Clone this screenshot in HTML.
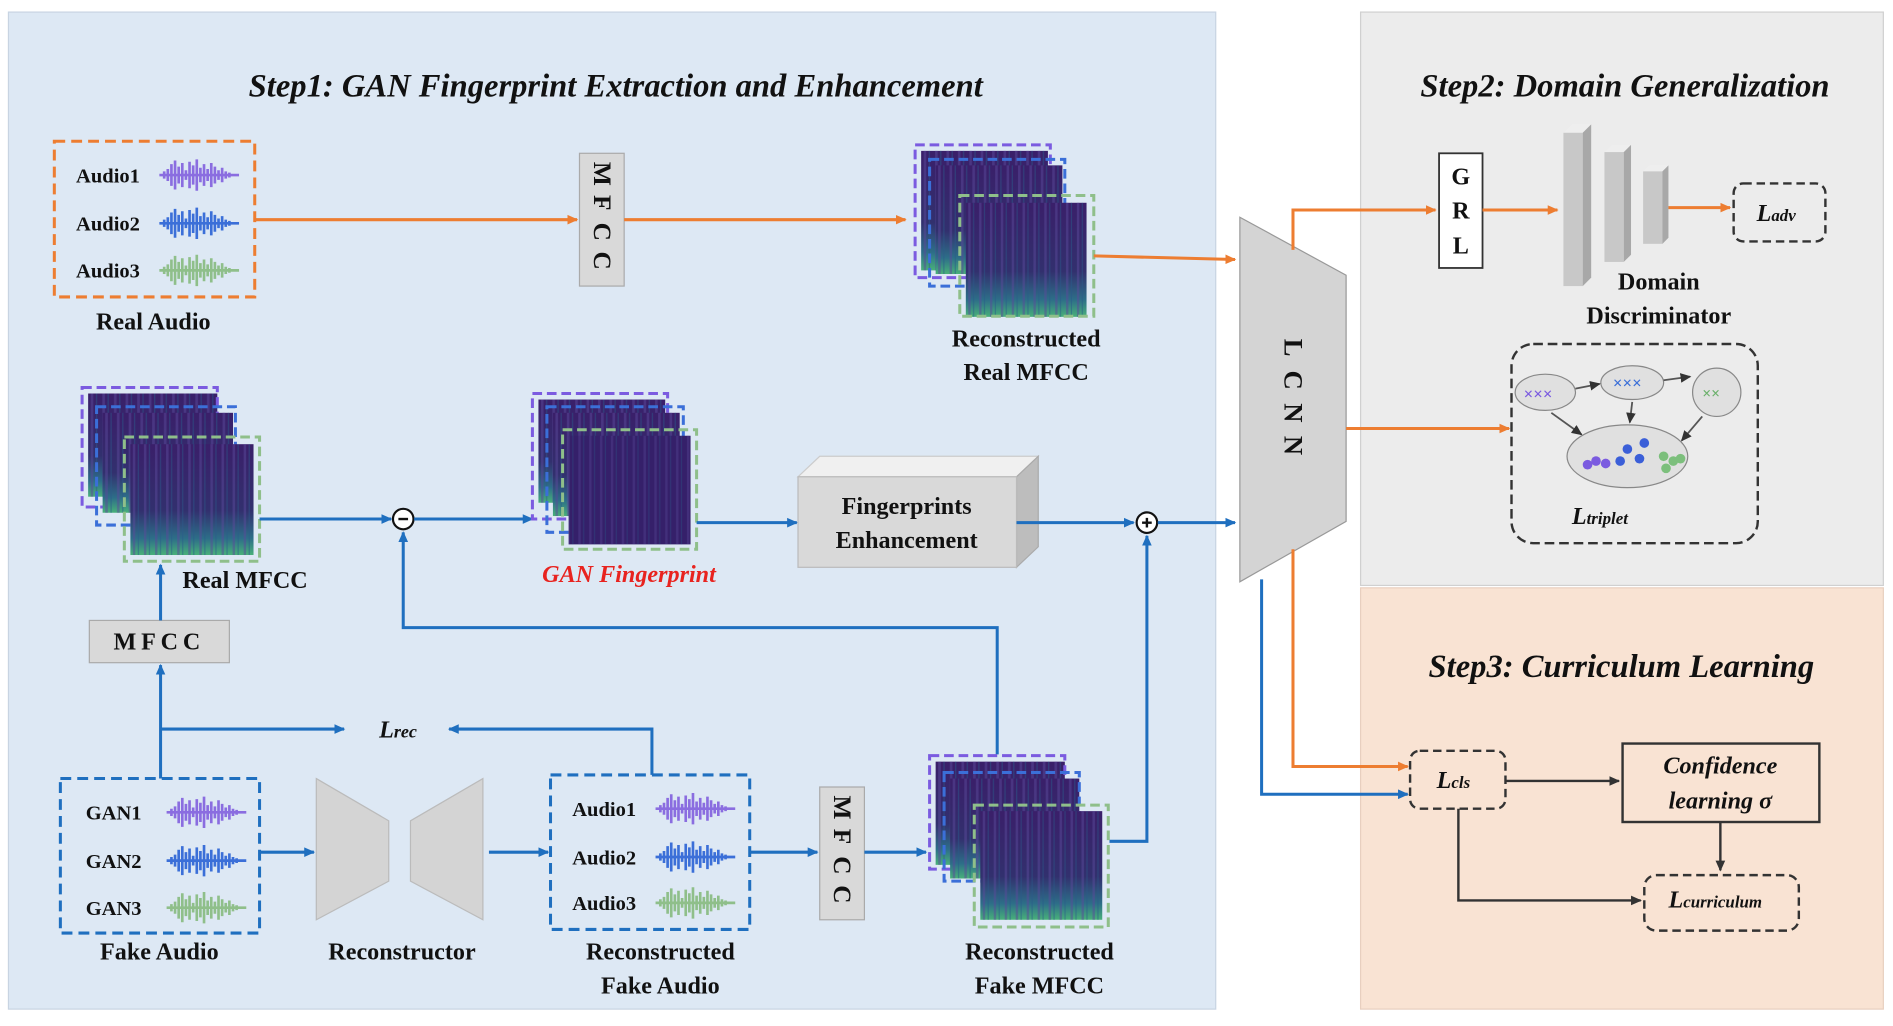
<!DOCTYPE html>
<html><head><meta charset="utf-8"><style>
html,body{margin:0;padding:0;background:#fff;}
svg{display:block;}
text{font-family:"Liberation Serif",serif;font-weight:bold;fill:#111;}
</style></head><body>
<svg width="1893" height="1026" viewBox="0 0 1568 850" preserveAspectRatio="none" xmlns="http://www.w3.org/2000/svg">
<defs>
<marker id="ao" markerWidth="10" markerHeight="10" refX="8" refY="5" orient="auto" markerUnits="userSpaceOnUse"><path d="M0,1 L9,5 L0,9 z" fill="#ed7d31"/></marker>
<marker id="ab" markerWidth="10" markerHeight="10" refX="8" refY="5" orient="auto" markerUnits="userSpaceOnUse"><path d="M0,1 L9,5 L0,9 z" fill="#1f6fbf"/></marker>
<marker id="ak" markerWidth="10" markerHeight="10" refX="8" refY="5" orient="auto" markerUnits="userSpaceOnUse"><path d="M0,1 L9,5 L0,9 z" fill="#333"/></marker>
<linearGradient id="sp" x1="0" y1="0" x2="0" y2="1"><stop offset="0" stop-color="#3a1f6a"/><stop offset="0.6" stop-color="#32306e"/><stop offset="0.85" stop-color="#2d6e88"/><stop offset="1" stop-color="#48b07a"/></linearGradient>
<pattern id="st" width="9" height="10" patternUnits="userSpaceOnUse"><rect x="2" width="2" height="10" fill="#5a4a9a" opacity="0.5"/><rect x="6" width="1" height="10" fill="#2a5a8a" opacity="0.5"/></pattern>
<symbol id="wv" viewBox="0 0 70 30"><path d="M2,15h66 M6,12v6 M9,10v10 M12,6v18 M15,3v24 M18,8v14 M21,5v20 M24,11v8 M27,4v22 M30,7v16 M33,2v26 M36,9v12 M39,6v18 M42,10v10 M45,5v20 M48,8v14 M51,11v8 M54,9v12 M57,12v6 M60,13v4 M64,14v2" stroke="currentColor" stroke-width="2.2" fill="none"/></symbol>
<g id="spec"><rect width="100" height="90" fill="url(#sp)"/><rect width="100" height="90" fill="url(#st)"/></g>
</defs>
<rect width="1568" height="850" fill="#fff"/>
<rect x="7" y="10" width="1000" height="826" fill="#dde8f4" stroke="#c8d4e2"/>
<rect x="1127" y="10" width="433" height="475" fill="#ececec" stroke="#d0d0d0"/>
<rect x="1127" y="487" width="433" height="349" fill="#f9e3d3" stroke="#e8cfbf"/>
<text x="510" y="80" font-size="27" font-style="italic" text-anchor="middle">Step1: GAN Fingerprint Extraction and Enhancement</text>
<text x="1346" y="80" font-size="27" font-style="italic" text-anchor="middle">Step2: Domain Generalization</text>
<text x="1343" y="561" font-size="27" font-style="italic" text-anchor="middle">Step3: Curriculum Learning</text>

<rect x="45" y="117" width="166" height="129" fill="none" stroke="#ed7d31" stroke-width="2.5" stroke-dasharray="9,5"/>
<g font-size="17"><text x="63" y="151">Audio1</text><text x="63" y="191">Audio2</text><text x="63" y="230">Audio3</text></g>
<use href="#wv" x="130" y="130" width="70" height="30" color="#8a6de0"/>
<use href="#wv" x="130" y="170" width="70" height="30" color="#3b6fd8"/>
<use href="#wv" x="130" y="209" width="70" height="30" color="#8fbf8a"/>
<text x="127" y="273" font-size="20" text-anchor="middle">Real Audio</text>
<rect x="480" y="127" width="37" height="110" fill="#d9d9d9" stroke="#aaa"/>
<g font-size="21" text-anchor="middle"><text x="498" y="150" transform="rotate(90 498 144)">M</text><text x="498" y="174" transform="rotate(90 498 168)">F</text><text x="498" y="198" transform="rotate(90 498 192)">C</text><text x="498" y="222" transform="rotate(90 498 216)">C</text></g>
<line x1="211" y1="182" x2="478" y2="182" stroke="#ed7d31" stroke-width="2.5" marker-end="url(#ao)"/>
<line x1="517" y1="182" x2="750" y2="182" stroke="#ed7d31" stroke-width="2.5" marker-end="url(#ao)"/>

<use href="#spec" transform="translate(763,125) scale(1.05,1.1)"/><rect x="758" y="120" width="112" height="110" fill="none" stroke="#7b5be0" stroke-width="2.5" stroke-dasharray="8,4"/>
<use href="#spec" transform="translate(775,137) scale(1.05,1.0)"/><rect x="770" y="132" width="112" height="105" fill="none" stroke="#3b6fd8" stroke-width="2.5" stroke-dasharray="8,4"/>
<use href="#spec" transform="translate(800,168) scale(1.0,1.05)"/><rect x="795" y="162" width="111" height="100" fill="none" stroke="#8fbf8a" stroke-width="2.5" stroke-dasharray="8,4"/>
<text x="850" y="287" font-size="20" text-anchor="middle">Reconstructed</text>
<text x="850" y="315" font-size="20" text-anchor="middle">Real MFCC</text>
<line x1="906" y1="212" x2="1023" y2="215" stroke="#ed7d31" stroke-width="2.5" marker-end="url(#ao)"/>

<polygon points="1027,180 1115,228 1115,432 1027,482" fill="#d4d4d4" stroke="#999"/>
<g font-size="22" text-anchor="middle"><text x="1071" y="295" transform="rotate(90 1071 288)">L</text><text x="1071" y="322" transform="rotate(90 1071 315)">C</text><text x="1071" y="349" transform="rotate(90 1071 342)">N</text><text x="1071" y="376" transform="rotate(90 1071 369)">N</text></g>

<use href="#spec" transform="translate(73,326) scale(1.07,0.95)"/><rect x="68" y="321" width="112" height="99" fill="none" stroke="#7b5be0" stroke-width="2.5" stroke-dasharray="8,4"/>
<use href="#spec" transform="translate(85,342) scale(1.08,0.92)"/><rect x="80" y="337" width="115" height="98" fill="none" stroke="#3b6fd8" stroke-width="2.5" stroke-dasharray="8,4"/>
<use href="#spec" transform="translate(108,368) scale(1.02,1.02)"/><rect x="103" y="362" width="112" height="103" fill="none" stroke="#8fbf8a" stroke-width="2.5" stroke-dasharray="8,4"/>
<text x="203" y="487" font-size="20" text-anchor="middle">Real MFCC</text>
<line x1="215" y1="430" x2="324" y2="430" stroke="#1f6fbf" stroke-width="2.5" marker-end="url(#ab)"/>
<circle cx="334" cy="430" r="8.5" fill="#fff" stroke="#111" stroke-width="1.8"/><line x1="330" y1="430" x2="338" y2="430" stroke="#111" stroke-width="2"/>
<line x1="343" y1="430" x2="441" y2="430" stroke="#1f6fbf" stroke-width="2.5" marker-end="url(#ab)"/>

<use href="#spec" transform="translate(446,331) scale(1.05,0.95)"/><rect x="441" y="326" width="112" height="104" fill="none" stroke="#7b5be0" stroke-width="2.5" stroke-dasharray="8,4"/>
<use href="#spec" transform="translate(458,342) scale(1.05,0.95)"/><rect x="453" y="337" width="113" height="104" fill="none" stroke="#3b6fd8" stroke-width="2.5" stroke-dasharray="8,4"/>
<rect x="471" y="361" width="101" height="90" fill="#35206a"/><rect x="471" y="361" width="101" height="90" fill="url(#st)" opacity="0.7"/><rect x="466" y="356" width="111" height="99" fill="none" stroke="#8fbf8a" stroke-width="2.5" stroke-dasharray="8,4"/>
<text x="521" y="482" font-size="20" font-style="italic" text-anchor="middle" style="fill:#e8231f">GAN Fingerprint</text>
<line x1="577" y1="433" x2="660" y2="433" stroke="#1f6fbf" stroke-width="2.5" marker-end="url(#ab)"/>

<polygon points="661,395 679,378 860,378 842,395" fill="#f0f0f0" stroke="#ccc"/>
<polygon points="842,395 860,378 860,453 842,470" fill="#bdbdbd" stroke="#aaa"/>
<rect x="661" y="395" width="181" height="75" fill="#d9d9d9" stroke="#bbb"/>
<text x="751" y="426" font-size="20" text-anchor="middle">Fingerprints</text>
<text x="751" y="454" font-size="20" text-anchor="middle">Enhancement</text>
<line x1="842" y1="433" x2="939" y2="433" stroke="#1f6fbf" stroke-width="2.5" marker-end="url(#ab)"/>
<circle cx="950" cy="433" r="8.5" fill="#fff" stroke="#111" stroke-width="1.8"/><path d="M946,433h8M950,429v8" stroke="#111" stroke-width="2"/>
<line x1="959" y1="433" x2="1023" y2="433" stroke="#1f6fbf" stroke-width="2.5" marker-end="url(#ab)"/>
<polyline points="919,697 950,697 950,444" fill="none" stroke="#1f6fbf" stroke-width="2.5" marker-end="url(#ab)"/>
<polyline points="826,625 826,520 334,520 334,441" fill="none" stroke="#1f6fbf" stroke-width="2.5" marker-end="url(#ab)"/>

<rect x="74" y="514" width="116" height="35" fill="#d9d9d9" stroke="#aaa"/>
<text x="132" y="538" font-size="20" text-anchor="middle" letter-spacing="4">MFCC</text>
<line x1="133" y1="514" x2="133" y2="468" stroke="#1f6fbf" stroke-width="2.5" marker-end="url(#ab)"/>
<line x1="133" y1="645" x2="133" y2="551" stroke="#1f6fbf" stroke-width="2.5" marker-end="url(#ab)"/>
<line x1="133" y1="604" x2="285" y2="604" stroke="#1f6fbf" stroke-width="2.5" marker-end="url(#ab)"/>
<text x="314" y="611" font-size="20" font-style="italic">L<tspan font-size="15">rec</tspan></text>
<polyline points="540,642 540,604 372,604" fill="none" stroke="#1f6fbf" stroke-width="2.5" marker-end="url(#ab)"/>

<rect x="50" y="645" width="165" height="128" fill="none" stroke="#1f6fbf" stroke-width="2.5" stroke-dasharray="9,5"/>
<g font-size="17"><text x="71" y="679">GAN1</text><text x="71" y="719">GAN2</text><text x="71" y="758">GAN3</text></g>
<use href="#wv" x="136" y="658" width="70" height="30" color="#8a6de0"/>
<use href="#wv" x="136" y="698" width="70" height="30" color="#3b6fd8"/>
<use href="#wv" x="136" y="737" width="70" height="30" color="#8fbf8a"/>
<text x="132" y="795" font-size="20" text-anchor="middle">Fake Audio</text>
<line x1="215" y1="706" x2="260" y2="706" stroke="#1f6fbf" stroke-width="2.5" marker-end="url(#ab)"/>
<polygon points="262,645 322,680 322,730 262,762" fill="#d4d4d4" stroke="#bbb"/>
<polygon points="340,680 400,645 400,762 340,730" fill="#d4d4d4" stroke="#bbb"/>
<text x="333" y="795" font-size="20" text-anchor="middle">Reconstructor</text>
<line x1="405" y1="706" x2="454" y2="706" stroke="#1f6fbf" stroke-width="2.5" marker-end="url(#ab)"/>
<rect x="456" y="642" width="165" height="128" fill="none" stroke="#1f6fbf" stroke-width="2.5" stroke-dasharray="9,5"/>
<g font-size="17"><text x="474" y="676">Audio1</text><text x="474" y="716">Audio2</text><text x="474" y="754">Audio3</text></g>
<use href="#wv" x="541" y="655" width="70" height="30" color="#8a6de0"/>
<use href="#wv" x="541" y="695" width="70" height="30" color="#3b6fd8"/>
<use href="#wv" x="541" y="733" width="70" height="30" color="#8fbf8a"/>
<text x="547" y="795" font-size="20" text-anchor="middle">Reconstructed</text>
<text x="547" y="823" font-size="20" text-anchor="middle">Fake Audio</text>
<line x1="621" y1="706" x2="677" y2="706" stroke="#1f6fbf" stroke-width="2.5" marker-end="url(#ab)"/>
<rect x="679" y="652" width="37" height="110" fill="#d9d9d9" stroke="#aaa"/>
<g font-size="21" text-anchor="middle"><text x="697" y="675" transform="rotate(90 697 669)">M</text><text x="697" y="699" transform="rotate(90 697 693)">F</text><text x="697" y="723" transform="rotate(90 697 717)">C</text><text x="697" y="747" transform="rotate(90 697 741)">C</text></g>
<line x1="716" y1="706" x2="767" y2="706" stroke="#1f6fbf" stroke-width="2.5" marker-end="url(#ab)"/>
<use href="#spec" transform="translate(775,631) scale(1.07,0.95)"/><rect x="770" y="626" width="112" height="94" fill="none" stroke="#7b5be0" stroke-width="2.5" stroke-dasharray="8,4"/>
<use href="#spec" transform="translate(787,645) scale(1.07,0.92)"/><rect x="782" y="640" width="112" height="90" fill="none" stroke="#3b6fd8" stroke-width="2.5" stroke-dasharray="8,4"/>
<use href="#spec" transform="translate(812,672) scale(1.01,1.0)"/><rect x="807" y="667" width="111" height="101" fill="none" stroke="#8fbf8a" stroke-width="2.5" stroke-dasharray="8,4"/>
<text x="861" y="795" font-size="20" text-anchor="middle">Reconstructed</text>
<text x="861" y="823" font-size="20" text-anchor="middle">Fake MFCC</text>

<polyline points="1071,207 1071,174 1189,174" fill="none" stroke="#ed7d31" stroke-width="2.5" marker-end="url(#ao)"/>
<rect x="1192" y="127" width="36" height="95" fill="#fff" stroke="#333" stroke-width="1.5"/>
<g font-size="20" text-anchor="middle"><text x="1210" y="153">G</text><text x="1210" y="181">R</text><text x="1210" y="210">L</text></g>
<line x1="1228" y1="174" x2="1290" y2="174" stroke="#ed7d31" stroke-width="2.5" marker-end="url(#ao)"/>
<polygon points="1295,110 1302,103 1318,103 1311,110" fill="#eee"/><rect x="1295" y="110" width="16" height="127" fill="#c8c8c8"/><polygon points="1311,110 1318,103 1318,230 1311,237" fill="#a8a8a8"/>
<polygon points="1329,126 1335,120 1351,120 1345,126" fill="#eee"/><rect x="1329" y="126" width="16" height="91" fill="#c8c8c8"/><polygon points="1345,126 1351,120 1351,211 1345,217" fill="#a8a8a8"/>
<polygon points="1361,142 1366,137 1382,137 1377,142" fill="#eee"/><rect x="1361" y="142" width="16" height="60" fill="#c8c8c8"/><polygon points="1377,142 1382,137 1382,197 1377,202" fill="#a8a8a8"/>
<line x1="1382" y1="172" x2="1433" y2="172" stroke="#ed7d31" stroke-width="2.5" marker-end="url(#ao)"/>
<rect x="1436" y="152" width="76" height="48" rx="8" fill="none" stroke="#333" stroke-width="2" stroke-dasharray="7,4"/>
<text x="1455" y="183" font-size="20" font-style="italic">L<tspan font-size="14">adv</tspan></text>
<text x="1374" y="240" font-size="20" text-anchor="middle">Domain</text>
<text x="1374" y="268" font-size="20" text-anchor="middle">Discriminator</text>
<line x1="1115" y1="355" x2="1250" y2="355" stroke="#ed7d31" stroke-width="2.5" marker-end="url(#ao)"/>
<rect x="1252" y="285" width="204" height="165" rx="18" fill="none" stroke="#333" stroke-width="2" stroke-dasharray="8,4"/>
<ellipse cx="1280" cy="325" rx="25" ry="15" fill="#e0e0e0" stroke="#888"/>
<ellipse cx="1352" cy="317" rx="26" ry="14" fill="#e0e0e0" stroke="#888"/>
<ellipse cx="1422" cy="325" rx="20" ry="20" fill="#e0e0e0" stroke="#888"/>
<ellipse cx="1348" cy="378" rx="50" ry="26" fill="#e0e0e0" stroke="#888"/>
<text x="1262" y="331" font-size="14" style="fill:#7b5be0">×××</text>
<text x="1336" y="322" font-size="14" style="fill:#3b6fd8">×××</text>
<text x="1410" y="330" font-size="13" style="fill:#6ab06a">××</text>
<g fill="#3b5fd8"><circle cx="1322" cy="382" r="4" fill="#7b5be0"/><circle cx="1315" cy="385" r="4" fill="#7b5be0"/><circle cx="1330" cy="384" r="4" fill="#7b5be0"/><circle cx="1348" cy="372" r="4"/><circle cx="1358" cy="380" r="4"/><circle cx="1342" cy="382" r="4"/><circle cx="1362" cy="367" r="4"/><circle cx="1378" cy="378" r="4" fill="#7cbf7c"/><circle cx="1386" cy="382" r="4" fill="#7cbf7c"/><circle cx="1380" cy="388" r="4" fill="#7cbf7c"/><circle cx="1392" cy="380" r="4" fill="#7cbf7c"/></g>
<g stroke="#555" stroke-width="1.5" fill="none" marker-end="url(#ak)"><line x1="1305" y1="322" x2="1325" y2="318"/><line x1="1378" y1="315" x2="1400" y2="312"/><line x1="1285" y1="342" x2="1310" y2="360"/><line x1="1352" y1="333" x2="1350" y2="350"/><line x1="1410" y1="345" x2="1393" y2="365"/></g>
<text x="1302" y="434" font-size="20" font-style="italic">L<tspan font-size="14">triplet</tspan></text>

<polyline points="1071,455 1071,635 1166,635" fill="none" stroke="#ed7d31" stroke-width="2.5" marker-end="url(#ao)"/>
<polyline points="1045,480 1045,658 1166,658" fill="none" stroke="#1f6fbf" stroke-width="2.5" marker-end="url(#ab)"/>
<rect x="1168" y="622" width="79" height="48" rx="8" fill="none" stroke="#333" stroke-width="2" stroke-dasharray="7,4"/>
<text x="1190" y="653" font-size="20" font-style="italic">L<tspan font-size="14">cls</tspan></text>
<line x1="1247" y1="647" x2="1341" y2="647" stroke="#333" stroke-width="2" marker-end="url(#ak)"/>
<rect x="1344" y="616" width="163" height="65" fill="none" stroke="#333" stroke-width="2"/>
<text x="1425" y="641" font-size="20" font-style="italic" text-anchor="middle">Confidence</text>
<text x="1425" y="670" font-size="20" font-style="italic" text-anchor="middle">learning σ</text>
<line x1="1425" y1="681" x2="1425" y2="721" stroke="#333" stroke-width="2" marker-end="url(#ak)"/>
<polyline points="1208,670 1208,746 1359,746" fill="none" stroke="#333" stroke-width="2" marker-end="url(#ak)"/>
<rect x="1362" y="725" width="128" height="46" rx="10" fill="none" stroke="#333" stroke-width="2" stroke-dasharray="7,4"/>
<text x="1382" y="752" font-size="20" font-style="italic">L<tspan font-size="14">curriculum</tspan></text>
</svg>
</body></html>
